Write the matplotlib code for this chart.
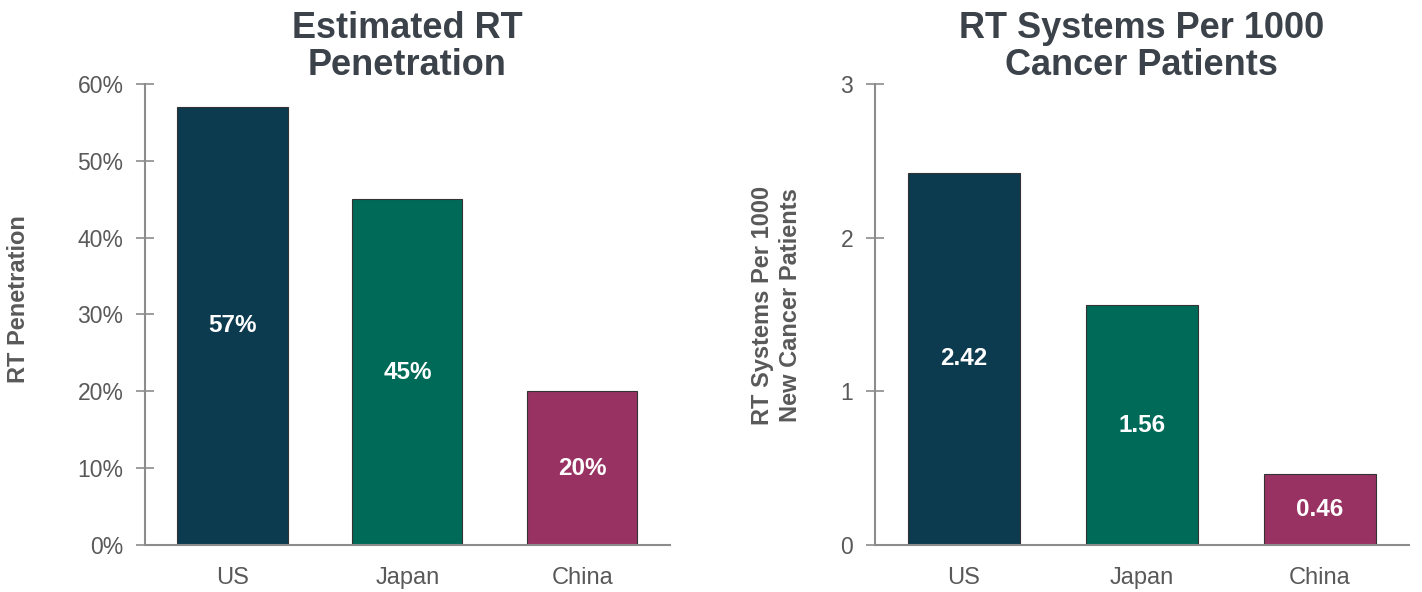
import matplotlib.pyplot as plt
import numpy as np

plt.rcParams['font.family'] = ['Liberation Sans', 'DejaVu Sans']

countries = ['US', 'Japan', 'China']
penetration = [57, 45, 20]
systems_per_1000 = [2.42, 1.56, 0.46]
colors = ['#0c3a4e', '#006a58', '#983262']

axis_gray = '#8c8c8c'
text_gray = '#595959'
title_gray = '#3b4249'

fig = plt.figure(figsize=(14.22, 5.92), dpi=100)
ax1 = fig.add_axes([0.102, 0.0794, 0.369, 0.779])
ax2 = fig.add_axes([0.615, 0.0794, 0.376, 0.779])


def style_axis(ax):
    for side in ['top', 'right']:
        ax.spines[side].set_visible(False)
    for side in ['left', 'bottom']:
        ax.spines[side].set_color(axis_gray)
        ax.spines[side].set_linewidth(1.5)
    ax.tick_params(axis='y', direction='inout', length=13, width=1.2,
                   color=axis_gray, labelcolor=text_gray, labelsize=16.5, pad=9)
    ax.tick_params(axis='x', length=0, labelcolor=text_gray, labelsize=17, pad=16)
    ax.set_xlim(-0.5, 2.5)


x = np.arange(len(countries))

# Left: RT penetration
bars1 = ax1.bar(x, penetration, width=0.63, color=colors, edgecolor='#333333', linewidth=0.8)
ax1.set_ylim(0, 60)
ax1.set_yticks(range(0, 61, 10))
ax1.set_yticklabels([f'{v}%' for v in range(0, 61, 10)])
ax1.set_xticks(x)
ax1.set_xticklabels(countries)
style_axis(ax1)
for b, v in zip(bars1, penetration):
    ax1.text(b.get_x() + b.get_width() / 2, v / 2, f'{v}%', ha='center', va='center',
             color='white', fontsize=17.5, fontweight='bold')
ax1.set_ylabel('RT Penetration', fontsize=17, fontweight='bold', color=text_gray)
ax1.yaxis.set_label_coords(-0.219, 0.533)
ax1.set_title('Estimated RT\nPenetration', fontsize=26, fontweight='bold', color=title_gray,
              pad=6, linespacing=1.1)

# Right: RT systems per 1000 patients
bars2 = ax2.bar(x, systems_per_1000, width=0.63, color=colors, edgecolor='#333333', linewidth=0.8)
ax2.set_ylim(0, 3)
ax2.set_yticks([0, 1, 2, 3])
ax2.set_xticks(x)
ax2.set_xticklabels(countries)
style_axis(ax2)
for b, v in zip(bars2, systems_per_1000):
    ax2.text(b.get_x() + b.get_width() / 2, v / 2, f'{v:.2f}', ha='center', va='center',
             color='white', fontsize=17.5, fontweight='bold')
ax2.set_ylabel('RT Systems Per 1000\nNew Cancer Patients', fontsize=17, fontweight='bold',
               color=text_gray, linespacing=1.25)
ax2.yaxis.set_label_coords(-0.136, 0.52)
ax2.set_title('RT Systems Per 1000\nCancer Patients', fontsize=26, fontweight='bold',
              color=title_gray, pad=6, linespacing=1.1)

fig.savefig('out.png', dpi=100)
